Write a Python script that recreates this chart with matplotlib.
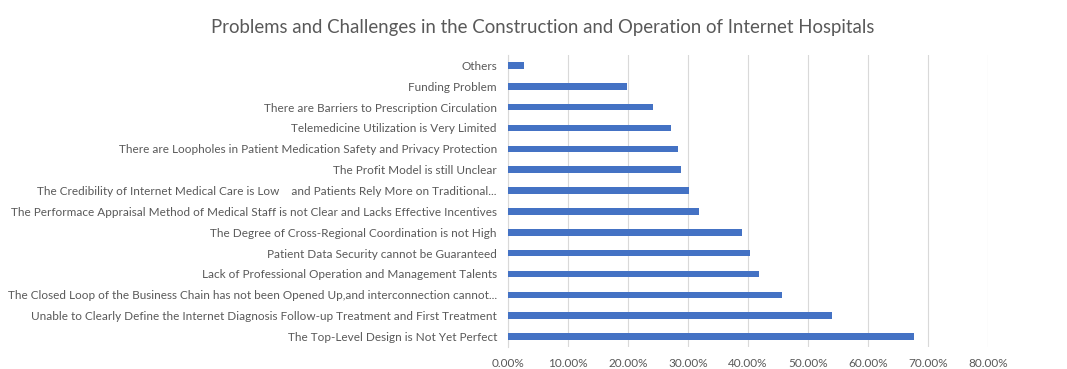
import matplotlib
matplotlib.use("Agg")
import matplotlib.pyplot as plt
from matplotlib.ticker import FuncFormatter

# Survey results, listed top to bottom as shown
categories = [
    "Others",
    "Funding Problem",
    "There are Barriers to Prescription Circulation",
    "Telemedicine Utilization is Very Limited",
    "There are Loopholes in Patient Medication Safety and Privacy Protection",
    "The Profit Model is still Unclear",
    "The Credibility of Internet Medical Care is Low    and Patients Rely More on Traditional...",
    "The Performace Appraisal Method of Medical Staff is not Clear and Lacks Effective Incentives",
    "The Degree of Cross-Regional Coordination is not High",
    "Patient Data Security cannot be Guaranteed",
    "Lack of Professional Operation and Management Talents",
    "The Closed Loop of the Business Chain has not been Opened Up,and interconnection cannot...",
    "Unable to Clearly Define the Internet Diagnosis Follow-up Treatment and First Treatment",
    "The Top-Level Design is Not Yet Perfect",
]
shares = [0.027, 0.199, 0.242, 0.272, 0.284, 0.289, 0.301, 0.319,
          0.390, 0.403, 0.419, 0.457, 0.540, 0.677]
x_ticks = [0.0, 0.1, 0.2, 0.3, 0.4, 0.5, 0.6, 0.7, 0.8]

plt.rcParams["font.family"] = ["Lato", "DejaVu Sans"]

fig = plt.figure(figsize=(10.67, 3.69), dpi=100)
ax = fig.add_axes([508 / 1067, 1 - 347 / 369, 480 / 1067, (347 - 55) / 369])

text_color = "#595959"
ypos = list(range(len(categories)))
ax.barh(ypos, shares, height=0.32, color="#4472C4", zorder=3)
ax.set_yticks(ypos)
ax.set_yticklabels(categories, fontsize=8.5, color=text_color)
ax.set_ylim(len(categories) - 0.5, -0.5)

ax.set_xlim(0, 0.8)
ax.set_xticks(x_ticks)
ax.xaxis.set_major_formatter(FuncFormatter(lambda v, _: f"{v * 100:.2f}%"))
ax.tick_params(axis="x", labelsize=8.5, labelcolor=text_color, length=0, pad=8)
ax.tick_params(axis="y", length=0, pad=8)

ax.grid(axis="x", color="#D9D9D9", linewidth=0.8, zorder=0)
for side in ("top", "right", "bottom"):
    ax.spines[side].set_visible(False)
ax.spines["left"].set_color("#D9D9D9")
ax.spines["left"].set_linewidth(0.8)

fig.text(543 / 1067, 1 - 27 / 369,
         "Problems and Challenges in the Construction and Operation of Internet Hospitals",
         ha="center", va="center", fontsize=13.4, color=text_color)

fig.savefig("out.png", dpi=100, facecolor="white")
